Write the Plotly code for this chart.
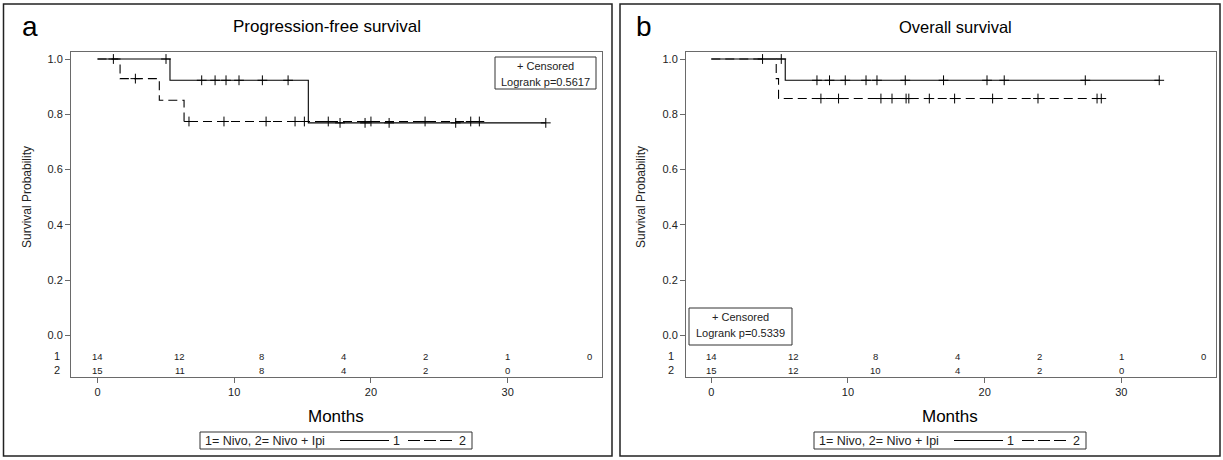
import plotly.graph_objects as go
from bisect import bisect_right

W, H = 1223, 460

# ---------------- data ----------------
x_ticks = [0, 10, 20, 30]
y_ticks = [0.0, 0.2, 0.4, 0.6, 0.8, 1.0]
risk_times = [0, 6, 12, 18, 24, 30, 36]

pfs_risk1 = [14, 12, 8, 4, 2, 1, 0]
pfs_risk2 = [15, 11, 8, 4, 2, 0]
os_risk1 = [14, 12, 8, 4, 2, 1, 0]
os_risk2 = [15, 12, 10, 4, 2, 0]

# Progression-free survival: step change times / survival, last follow-up
pfs1_t = [0, 5.3, 15.42]
pfs1_s = [1.0, 0.923, 0.769]
pfs1_end = 32.79
pfs2_t = [0, 1.65, 4.52, 6.33]
pfs2_s = [1.0, 0.929, 0.851, 0.774]
pfs2_end = 27.93
pfs1_cens = [5.01, 7.62, 8.60, 9.40, 10.35, 12.06, 13.94, 17.74, 19.57, 21.33, 26.2, 32.79]
pfs2_cens = [1.16, 2.77, 6.69, 9.25, 12.33, 14.45, 15.13, 16.88, 20.0, 23.96, 27.3, 27.93]

# Overall survival
os1_t = [0, 5.41]
os1_s = [1.0, 0.923]
os1_end = 32.77
os2_t = [0, 4.75, 4.92]
os2_s = [1.0, 0.929, 0.857]
os2_end = 28.53
os1_cens = [5.12, 7.73, 8.65, 9.80, 11.32, 12.12, 14.19, 16.99, 20.17, 21.43, 27.36, 32.77]
os2_cens = [3.75, 8.02, 9.31, 12.41, 13.22, 14.25, 14.45, 15.95, 17.8, 20.58, 23.9, 28.22, 28.53]

pfs_p = "Logrank p=0.5617"
os_p = "Logrank p=0.5339"
group_title = "1= Nivo, 2= Nivo + Ipi"
group_names = ["1", "2"]

# ---------------- helpers ----------------
FONT = "Liberation Sans, Arial, sans-serif"
AXC = "#6a6a6a"
DASH = "9px,5px"


def px(x):
    return x / W


def py(y):
    return 1 - y / H


def surv_at(ts, ss, t):
    i = bisect_right(ts, t) - 1
    return ss[max(i, 0)]


fig = go.Figure()


def add_panel(xa, ya, t1, s1, e1, c1, t2, s2, e2, c2):
    fig.add_trace(go.Scatter(x=t1 + [e1], y=s1 + [s1[-1]], mode="lines", line_shape="hv",
                             line=dict(color="black", width=1.1), name=group_names[0],
                             xaxis=xa, yaxis=ya, showlegend=False, hoverinfo="skip"))
    fig.add_trace(go.Scatter(x=t2 + [e2], y=s2 + [s2[-1]], mode="lines", line_shape="hv",
                             line=dict(color="black", width=1.1, dash=DASH), name=group_names[1],
                             xaxis=xa, yaxis=ya, showlegend=False, hoverinfo="skip"))
    for c, t, s in ((c1, t1, s1), (c2, t2, s2)):
        fig.add_trace(go.Scatter(x=c, y=[surv_at(t, s, v) for v in c], mode="markers",
                                 marker=dict(symbol="cross-thin", size=7,
                                             line=dict(color="black", width=1)),
                                 showlegend=False, xaxis=xa, yaxis=ya, hoverinfo="skip"))


add_panel("x", "y", pfs1_t, pfs1_s, pfs1_end, pfs1_cens,
          pfs2_t, pfs2_s, pfs2_end, pfs2_cens)
add_panel("x2", "y2", os1_t, os1_s, os1_end, os1_cens,
          os2_t, os2_s, os2_end, os2_cens)

ydom = [py(377), py(52)]
yrange = [-0.150, 1.0253]
axis_common = dict(showline=True, mirror=True, linecolor=AXC, linewidth=1,
                   ticks="outside", ticklen=5, tickcolor=AXC, tickwidth=1,
                   showgrid=False, zeroline=False,
                   tickfont=dict(family=FONT, size=11, color="#222"))

fig.update_layout(
    width=W, height=H, margin=dict(l=0, r=0, t=0, b=0),
    paper_bgcolor="white", plot_bgcolor="white", showlegend=False,
    font=dict(family=FONT, color="black"),
    xaxis=dict(domain=[px(71), px(601.7)], range=[-1.94, 36.88], tickvals=x_ticks,
               anchor="y", **axis_common),
    yaxis=dict(domain=ydom, range=yrange, tickvals=y_ticks,
               ticktext=[f"{v:.1f}" for v in y_ticks], anchor="x", **axis_common),
    xaxis2=dict(domain=[px(686), px(1215.7)], range=[-1.85, 36.9], tickvals=x_ticks,
                anchor="y2", **axis_common),
    yaxis2=dict(domain=ydom, range=yrange, tickvals=y_ticks,
                ticktext=[f"{v:.1f}" for v in y_ticks], anchor="x2", **axis_common),
)

ann = []
shapes = []


def text(t, x, y, size=11, color="#222", angle=0, xref="paper", yref="paper"):
    ann.append(dict(text=t, xref=xref, yref=yref,
                    x=px(x) if xref == "paper" else x,
                    y=py(y) if yref == "paper" else y,
                    xanchor="center", yanchor="middle", textangle=angle,
                    showarrow=False, font=dict(family=FONT, size=size, color=color)))


def rect(x0, y0, x1, y1, color="#333", width=1):
    shapes.append(dict(type="rect", xref="paper", yref="paper",
                       x0=px(x0), x1=px(x1), y0=py(y1), y1=py(y0),
                       line=dict(color=color, width=width)))


def hline(x0, x1, y, dash="solid"):
    shapes.append(dict(type="line", xref="paper", yref="paper",
                       x0=px(x0), x1=px(x1), y0=py(y), y1=py(y),
                       line=dict(color="black", width=1, dash=dash)))


def panel_text(dx, xa, ya, letter, title, title_x, title_size, pval, pbox, frame, risk1, risk2):
    rect(frame[0], 4, frame[1], 456, color="#222", width=1.5)
    text(letter, 30 + dx, 27, size=28, color="black")
    text(title, title_x, 27, size=title_size, color="black")
    text("Survival Probability", 27 + dx, 197, size=12, angle=-90)
    text("Months", 336 + dx, 416, size=17, color="black")
    for lab, row, yv in (("1", risk1, -0.0741), ("2", risk2, -0.1248)):
        text(lab, 57 + dx, yv, size=11, yref=ya)
        for t, n in zip(risk_times, row):
            text(str(n), t, yv, size=9.5, xref=xa, yref=ya)
    # censored / logrank box
    bx0, by0, bx1, by1 = pbox
    rect(bx0, by0, bx1, by1)
    cx = (bx0 + bx1) / 2
    text("+ Censored", cx, by0 + 9)
    text(pval, cx, by0 + 25)
    # group legend
    rect(200 + dx, 432, 472 + dx, 449)
    text(group_title, 265 + dx, 440.5, size=12.5)
    hline(340 + dx, 389 + dx, 440.5)
    text(group_names[0], 396 + dx, 440.5, size=12.5)
    hline(408 + dx, 452 + dx, 440.5, dash="12px,4px")
    text(group_names[1], 462 + dx, 440.5, size=12.5)


panel_text(0, "x", "y", "a", "Progression-free survival", 327, 17, pfs_p,
           (495, 57, 596, 89), (3.5, 612), pfs_risk1, pfs_risk2)
panel_text(614, "x2", "y2", "b", "Overall survival", 955, 16.5, os_p,
           (689, 308, 792, 345), (620, 1220), os_risk1, os_risk2)

fig.update_layout(annotations=ann, shapes=shapes)
fig.write_html("out.html", config={"displayModeBar": False},
               post_script="document.body.style.margin='0px';")
